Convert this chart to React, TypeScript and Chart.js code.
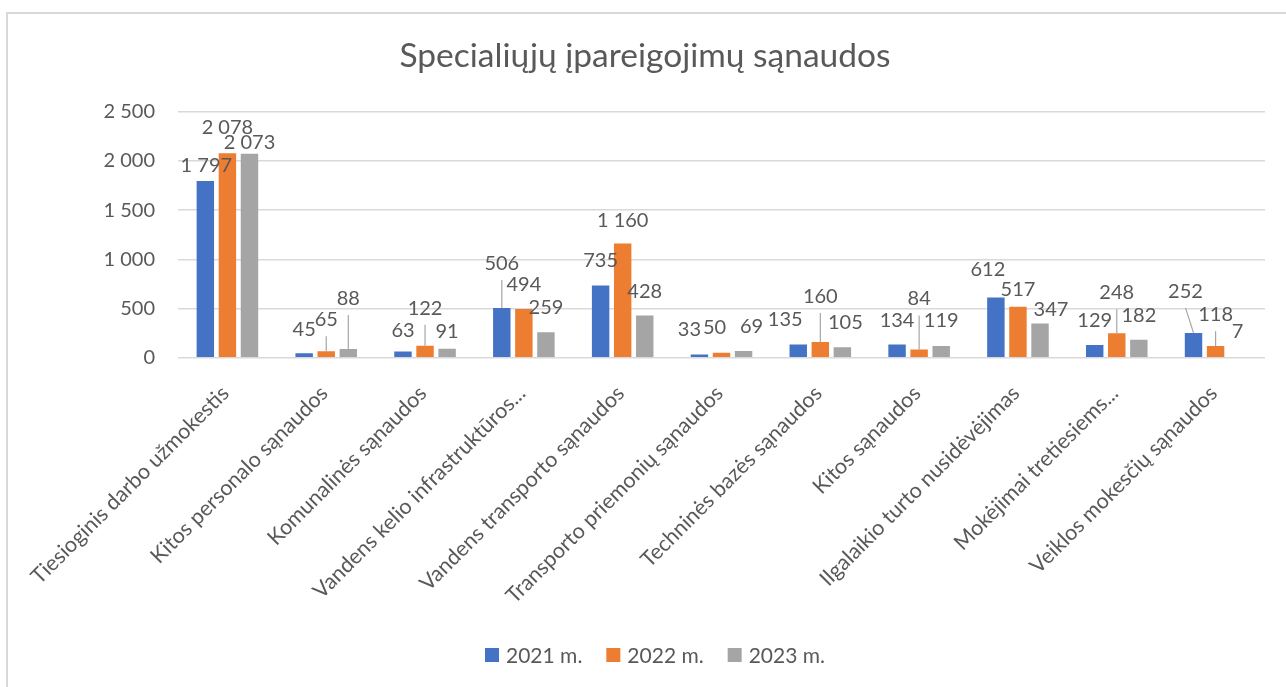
import React, { useEffect, useRef } from "react";
import { Chart, registerables } from "chart.js";

Chart.register(...registerables);

const FONT = "Lato, 'Noto Sans', sans-serif";
const TEXT_COLOR = "#595959";

const chartTitle = "Specialiųjų įpareigojimų sąnaudos";

const categories = [
  "Tiesioginis darbo užmokestis",
  "Kitos personalo sąnaudos",
  "Komunalinės sąnaudos",
  "Vandens kelio infrastruktūros...",
  "Vandens transporto sąnaudos",
  "Transporto priemonių sąnaudos",
  "Techninės bazės sąnaudos",
  "Kitos sąnaudos",
  "Ilgalaikio turto nusidėvėjimas",
  "Mokėjimai tretiesiems...",
  "Veiklos mokesčių sąnaudos",
];

const seriesNames = ["2021 m.", "2022 m.", "2023 m."];
const seriesColors = ["#4472C4", "#ED7D31", "#A5A5A5"];

const values2021 = [1797, 45, 63, 506, 735, 33, 135, 134, 612, 129, 252];
const values2022 = [2078, 65, 122, 494, 1160, 50, 160, 84, 517, 248, 118];
const values2023 = [2073, 88, 91, 259, 428, 69, 105, 119, 347, 182, 7];

const yTicks = [0, 500, 1000, 1500, 2000, 2500];

// data-label placement (pixels, relative to the top centre of each bar), as moved in the original
const labelShift2021 = [1, 0, 0, 0, 0, -10, -13, 0, -8, 0, -8];
const labelLift2021 = [16, 24, 22, 45, 25, 25, 25, 25, 28, 25, 42];
const labelShift2022 = [0, 0, 0, 0, 0, -7, 0, 0, 0, 0, 0];
const labelLift2022 = [26, 32, 38, 25, 24, 26, 46, 51, 18, 41, 32];
const labelShift2023 = [0, 0, 0, 0, 0, 8, 3, 0, 11, 0, 0];
const labelLift2023 = [12, 51, 18, 25, 25, 25, 25, 26, 15, 25, 26];

const allValues = [values2021, values2022, values2023];
const labelShifts = [labelShift2021, labelShift2022, labelShift2023];
const labelLifts = [labelLift2021, labelLift2022, labelLift2023];

const fmt = (v: number) => String(v).replace(/\B(?=(\d{3})+(?!\d))/g, " ");

const LABEL_SIZE = 20;
const LEGEND_SIZE = 21;

const valueLabelPlugin = {
  id: "valueLabels",
  afterDatasetsDraw(chart: any) {
    const ctx = chart.ctx as CanvasRenderingContext2D;
    ctx.save();
    ctx.font = `${LABEL_SIZE}px ${FONT}`;
    ctx.textAlign = "center";
    ctx.textBaseline = "alphabetic";
    const capH = ctx.measureText("0").actualBoundingBoxAscent;
    chart.data.datasets.forEach((_ds: any, di: number) => {
      const meta = chart.getDatasetMeta(di);
      meta.data.forEach((bar: any, i: number) => {
        const lift = labelLifts[di][i];
        const cx = bar.x + labelShifts[di][i];
        const cy = bar.y - lift;
        if (lift >= 30) {
          ctx.strokeStyle = "#a6a6a6";
          ctx.lineWidth = 1.2;
          ctx.beginPath();
          ctx.moveTo(cx, cy + 17);
          ctx.lineTo(bar.x, bar.y);
          ctx.stroke();
        }
        ctx.fillStyle = TEXT_COLOR;
        ctx.fillText(fmt(allValues[di][i]), cx, cy + capH / 2);
      });
    });
    ctx.restore();
  },
};

// legend drawn under the axis labels, centred a little right of the canvas middle as in the original
const legendPlugin = {
  id: "bottomLegend",
  afterDraw(chart: any) {
    const ctx = chart.ctx as CanvasRenderingContext2D;
    ctx.save();
    ctx.font = `${LEGEND_SIZE}px ${FONT}`;
    ctx.textBaseline = "alphabetic";
    ctx.textAlign = "left";
    const box = 14;
    const gap = 7;
    const spacing = 24;
    const widths = seriesNames.map((n) => box + gap + ctx.measureText(n).width);
    const total = widths.reduce((a, b) => a + b, 0) + spacing * (widths.length - 1);
    const centerX = chart.width / 2 + 10;
    const centerY = chart.height - 32;
    const capH = ctx.measureText("2").actualBoundingBoxAscent;
    let x = centerX - total / 2;
    seriesNames.forEach((n, i) => {
      ctx.fillStyle = seriesColors[i];
      ctx.fillRect(x, centerY - box / 2, box, box);
      ctx.fillStyle = TEXT_COLOR;
      ctx.fillText(n, x + box + gap, centerY + capH / 2);
      x += widths[i] + spacing;
    });
    ctx.restore();
  },
};

export default function App() {
  const canvasRef = useRef<HTMLCanvasElement | null>(null);

  useEffect(() => {
    if (!canvasRef.current) return;
    Chart.defaults.font.family = FONT;
    const chart = new Chart(canvasRef.current, {
      type: "bar",
      data: {
        labels: categories,
        datasets: allValues.map((vals, i) => ({
          label: seriesNames[i],
          data: vals,
          backgroundColor: seriesColors[i],
          borderWidth: 0,
          categoryPercentage: 0.67,
          barPercentage: 0.79,
        })),
      },
      options: {
        responsive: false,
        animation: false,
        layout: { padding: { left: 16, right: 16, bottom: 0, top: 0 } },
        plugins: {
          title: {
            display: true,
            text: chartTitle,
            color: TEXT_COLOR,
            font: { size: 33.5, weight: "normal", family: FONT },
            padding: { top: 22, bottom: 35.5 },
          },
          legend: { display: false },
          tooltip: { enabled: false },
        },
        scales: {
          x: {
            grid: { display: false, drawTicks: false },
            border: { display: false },
            ticks: {
              color: TEXT_COLOR,
              font: { size: 21.5, family: FONT },
              minRotation: 45,
              maxRotation: 45,
              autoSkip: false,
              padding: 23,
              labelOffset: -2,
            },
            afterFit: (scale: any) => {
              scale.height = 329.3;
              scale.paddingLeft = 0;
              scale.paddingRight = 0;
            },
          },
          y: {
            min: 0,
            max: 2500,
            afterBuildTicks: (scale: any) => {
              scale.ticks = yTicks.map((v) => ({ value: v }));
            },
            grid: { color: "#d9d9d9", lineWidth: 1.5, drawTicks: false },
            border: { display: false },
            ticks: {
              color: TEXT_COLOR,
              font: { size: 20, family: FONT },
              padding: 23,
              callback: (v: any) => fmt(Number(v)),
            },
            afterFit: (scale: any) => {
              scale.width = 153;
              scale.paddingTop = 0;
              scale.paddingBottom = 0;
            },
          },
        },
      },
      plugins: [valueLabelPlugin, legendPlugin],
    });
    return () => chart.destroy();
  }, []);

  return (
    <>
      <div
        style={{
          position: "fixed",
          left: 6,
          top: 12,
          right: 0,
          bottom: 0,
          borderLeft: "2px solid #d9d9d9",
          borderTop: "2px solid #d9d9d9",
          background: "#ffffff",
        }}
      />
      <canvas
        ref={canvasRef}
        width={1272}
        height={673}
        style={{ position: "fixed", left: 9, top: 14, width: 1272, height: 673 }}
      />
    </>
  );
}
